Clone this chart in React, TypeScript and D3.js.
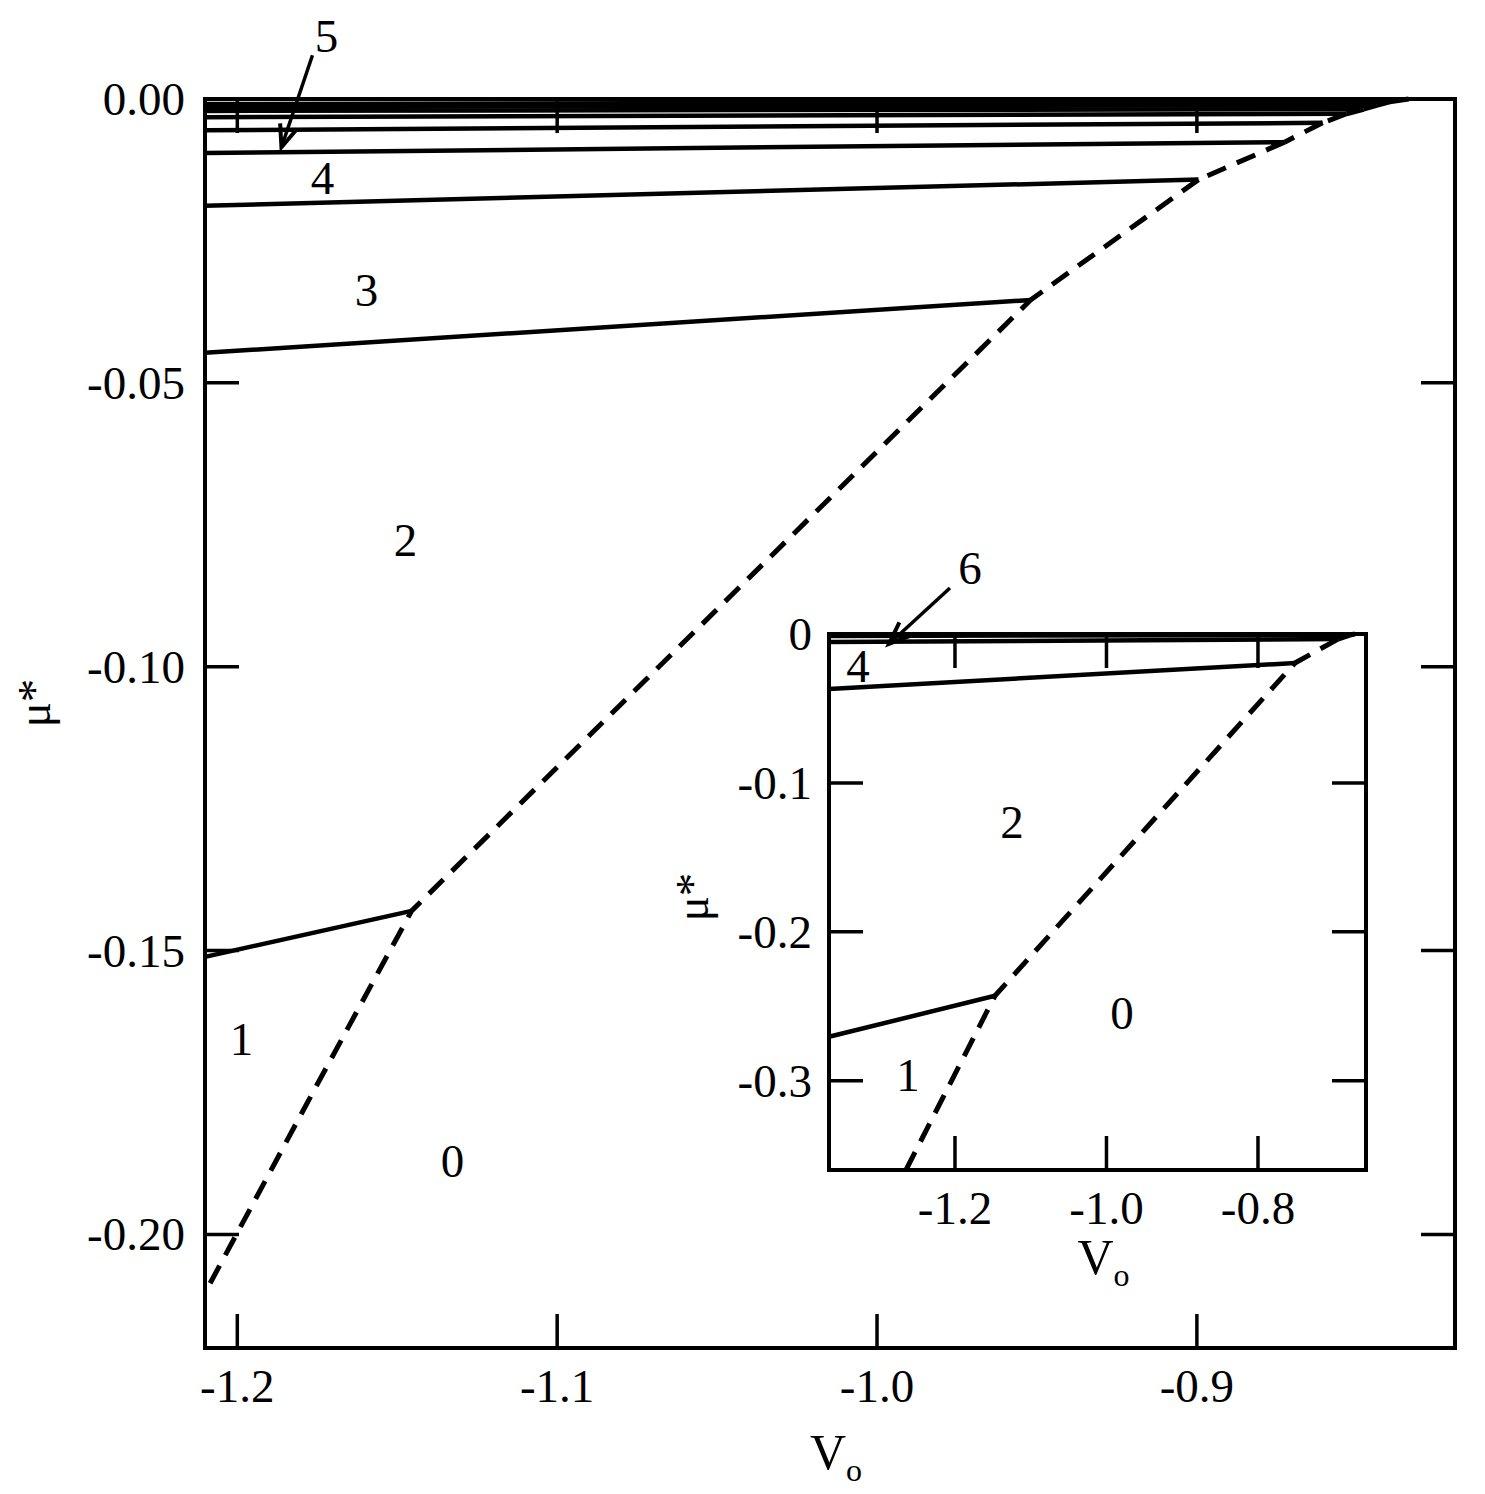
import React from "react";
import * as d3 from "d3";

// ---------- main panel data ----------
const mainXTicks = [-1.2, -1.1, -1.0, -0.9];
const mainXTickLabels = ["-1.2", "-1.1", "-1.0", "-0.9"];
const mainYTicks = [0, -0.05, -0.1, -0.15, -0.2];
const mainYTickLabels = ["0.00", "-0.05", "-0.10", "-0.15", "-0.20"];

// solid boundaries (n | n+1): start at left edge, end at the dashed curve
const mainSolidLeftMu = [-0.1511, -0.0447, -0.0188, -0.0095, -0.0055, -0.0032, -0.0021, -0.0014, -0.0009];
const mainJunctionV = [-1.1455, -0.952, -0.8995, -0.8726, -0.8607, -0.8532, -0.8479, -0.8438, -0.8397];
const mainJunctionMu = [-0.143, -0.0354, -0.0142, -0.0076, -0.0042, -0.0026, -0.0018, -0.0011, -0.0005];

// dashed boundary of the n=0 region (lower part), plus end point at top
const mainDashLowV = [-1.2085, -1.1762];
const mainDashLowMu = [-0.2086, -0.1748];
const mainDashEnd: [number, number] = [-0.8338, 0];

const mainRegionLabels = ["5", "4", "3", "2", "1", "0"];
const mainRegionV = [-1.1721, -1.1734, -1.1596, -1.1474, -1.1987, -1.1327];
const mainRegionMu = [0.0111, -0.0139, -0.0336, -0.0776, -0.1655, -0.187];
const mainArrowFrom: [number, number] = [-1.1765, 0.0077];
const mainArrowTo: [number, number] = [-1.1862, -0.0085];

// ---------- inset data ----------
const insetXTicks = [-1.2, -1.0, -0.8];
const insetXTickLabels = ["-1.2", "-1.0", "-0.8"];
const insetYTicks = [0, -0.1, -0.2, -0.3];
const insetYTickLabels = ["0", "-0.1", "-0.2", "-0.3"];

const insetSolidLeftMu = [-0.2705, -0.0369, -0.0054, -0.0013];
const insetJunctionV = [-1.1472, -0.7512, -0.6944, -0.6786];
const insetJunctionMu = [-0.243, -0.0195, -0.0034, -0.0007];
const insetDashStart: [number, number] = [-1.2647, -0.36];
const insetDashEnd: [number, number] = [-0.672, 0];

const insetRegionLabels = ["6", "4", "2", "1", "0"];
const insetRegionV = [-1.18, -1.328, -1.1247, -1.262, -0.9795];
const insetRegionMu = [0.0443, -0.0215, -0.1262, -0.296, -0.2544];
const insetArrowFrom: [number, number] = [-1.2066, 0.0309];
const insetArrowTo: [number, number] = [-1.2871, -0.0067];

const FONT = "'Liberation Serif', 'Times New Roman', Times, serif";
const FS = 47;
const TICK = 34;
const SW = 4.5;
const DASH = "20,12";

type Panel = {
  left: number; right: number; top: number; bottom: number;
  xDomain: [number, number]; yDomain: [number, number];
};

function arrowHead(x1: number, y1: number, x2: number, y2: number, len = 24, ang = 0.38) {
  const a = Math.atan2(y1 - y2, x1 - x2);
  const p1 = [x2 + len * Math.cos(a + ang), y2 + len * Math.sin(a + ang)];
  const p2 = [x2 + len * Math.cos(a - ang), y2 + len * Math.sin(a - ang)];
  return `M${p1[0]},${p1[1]}L${x2},${y2}L${p2[0]},${p2[1]}`;
}

function PhasePanel(props: {
  p: Panel;
  xTicks: number[]; xTickLabels: string[];
  yTicks: number[]; yTickLabels: string[];
  leftMu: number[]; jV: number[]; jMu: number[];
  dashLow: [number, number][]; dashEnd: [number, number];
  labels: string[]; labelV: number[]; labelMu: number[];
  arrowFrom: [number, number]; arrowTo: [number, number];
  xTitleY: number; yTitleX: number; yTitleY: number; labelGap: number;
}) {
  const { p } = props;
  const x = d3.scaleLinear().domain(p.xDomain).range([p.left, p.right]);
  const y = d3.scaleLinear().domain(p.yDomain).range([p.bottom, p.top]);
  const line = d3.line<[number, number]>().x((d) => x(d[0])).y((d) => y(d[1]));

  const junctions: [number, number][] = props.jV.map((v, i) => [v, props.jMu[i]]);
  const lowerPts: [number, number][] = [...props.dashLow, junctions[0], junctions[1]];
  const upperSegs: [number, number][][] = [];
  const upperPts: [number, number][] = [...junctions.slice(1), props.dashEnd];
  for (let i = upperPts.length - 1; i > 0; i--) {
    upperSegs.push([upperPts[i], upperPts[i - 1]]);
  }

  const ax1 = x(props.arrowFrom[0]), ay1 = y(props.arrowFrom[1]);
  const ax2 = x(props.arrowTo[0]), ay2 = y(props.arrowTo[1]);

  return (
    <g>
      {props.leftMu.map((m, i) => (
        <path key={"s" + i} d={line([[p.xDomain[0], m], junctions[i]]) || ""} fill="none" stroke="#000" strokeWidth={SW} />
      ))}
      <path d={line(lowerPts) || ""} fill="none" stroke="#000" strokeWidth={SW + 0.5} strokeDasharray={DASH} />
      {upperSegs.map((s, i) => (
        <path key={"d" + i} d={line(s) || ""} fill="none" stroke="#000" strokeWidth={SW + 0.5} strokeDasharray={DASH} />
      ))}
      <rect x={p.left} y={p.top} width={p.right - p.left} height={p.bottom - p.top} fill="none" stroke="#000" strokeWidth={4} />
      {props.xTicks.map((t, i) => (
        <g key={"xt" + i}>
          <line x1={x(t)} x2={x(t)} y1={p.bottom} y2={p.bottom - TICK} stroke="#000" strokeWidth={3.5} />
          <line x1={x(t)} x2={x(t)} y1={p.top} y2={p.top + TICK} stroke="#000" strokeWidth={3.5} />
          <text x={x(t)} y={p.bottom + 38} textAnchor="middle" dominantBaseline="central" fontFamily={FONT} fontSize={FS}>{props.xTickLabels[i]}</text>
        </g>
      ))}
      {props.yTicks.map((t, i) => (
        <g key={"yt" + i}>
          <line x1={p.left} x2={p.left + TICK} y1={y(t)} y2={y(t)} stroke="#000" strokeWidth={3.5} />
          <line x1={p.right} x2={p.right - TICK} y1={y(t)} y2={y(t)} stroke="#000" strokeWidth={3.5} />
          <text x={p.left - props.labelGap} y={y(t)} textAnchor="end" dominantBaseline="central" fontFamily={FONT} fontSize={FS}>{props.yTickLabels[i]}</text>
        </g>
      ))}
      {props.labels.map((l, i) => (
        <text key={"l" + i} x={x(props.labelV[i])} y={y(props.labelMu[i])} textAnchor="middle" dominantBaseline="central" fontFamily={FONT} fontSize={FS}>{l}</text>
      ))}
      <line x1={ax1} y1={ay1} x2={ax2} y2={ay2} stroke="#000" strokeWidth={3.5} />
      <path d={arrowHead(ax1, ay1, ax2, ay2)} fill="none" stroke="#000" strokeWidth={4} />
      <text x={(p.left + p.right) / 2 + 6} y={props.xTitleY} textAnchor="middle" fontFamily={FONT} fontSize={FS + 3}>
        V<tspan fontSize={32} dy={12}>o</tspan>
      </text>
      <text transform={`translate(${props.yTitleX},${props.yTitleY}) rotate(-90)`} textAnchor="middle" fontFamily={FONT} fontSize={FS}>μ*</text>
    </g>
  );
}

export default function App() {
  const main: Panel = { left: 205, right: 1455, top: 99, bottom: 1348, xDomain: [-1.2101, -0.8193], yDomain: [-0.22, 0] };
  const inset: Panel = { left: 829, right: 1366, top: 634, bottom: 1170, xDomain: [-1.3663, -0.6574], yDomain: [-0.36, 0] };
  return (
    <svg width={1485} height={1494} style={{ position: "absolute", left: 0, top: 0, background: "#fff" }}>
      <rect x={0} y={0} width={1485} height={1494} fill="#fff" />
      <PhasePanel
        p={main}
        xTicks={mainXTicks} xTickLabels={mainXTickLabels}
        yTicks={mainYTicks} yTickLabels={mainYTickLabels}
        leftMu={mainSolidLeftMu} jV={mainJunctionV} jMu={mainJunctionMu}
        dashLow={mainDashLowV.map((v, i) => [v, mainDashLowMu[i]] as [number, number])} dashEnd={mainDashEnd}
        labels={mainRegionLabels} labelV={mainRegionV} labelMu={mainRegionMu}
        arrowFrom={mainArrowFrom} arrowTo={mainArrowTo}
        xTitleY={1469} yTitleX={50} yTitleY={703} labelGap={20}
      />
      <rect x={inset.left} y={inset.top} width={inset.right - inset.left} height={inset.bottom - inset.top} fill="#fff" />
      <PhasePanel
        p={inset}
        xTicks={insetXTicks} xTickLabels={insetXTickLabels}
        yTicks={insetYTicks} yTickLabels={insetYTickLabels}
        leftMu={insetSolidLeftMu} jV={insetJunctionV} jMu={insetJunctionMu}
        dashLow={[insetDashStart]} dashEnd={insetDashEnd}
        labels={insetRegionLabels} labelV={insetRegionV} labelMu={insetRegionMu}
        arrowFrom={insetArrowFrom} arrowTo={insetArrowTo}
        xTitleY={1274} yTitleX={708} yTitleY={897} labelGap={17}
      />
    </svg>
  );
}
